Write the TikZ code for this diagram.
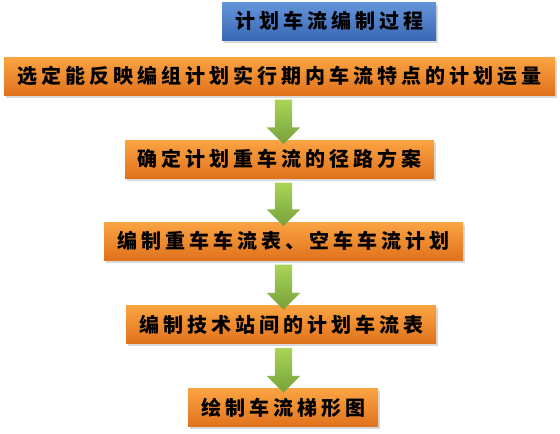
\documentclass[tikz,border=0pt]{standalone}
\usepackage{fontspec}
\newfontfamily\cjk{Noto Sans CJK SC}[LetterSpace=20]
\usetikzlibrary{calc,positioning,shapes.arrows,shadows}

\definecolor{boxtop}{HTML}{FBA443}
\definecolor{boxbot}{HTML}{E0721C}
\definecolor{ttltop}{HTML}{6495DA}
\definecolor{ttlbot}{HTML}{3A68B4}
\definecolor{arrtop}{HTML}{AAD556}
\definecolor{arrbot}{HTML}{77A03C}

\tikzset{
  stepbox/.style={rectangle, minimum height=38pt, inner sep=0pt,
    top color=boxtop, bottom color=boxbot, draw=none,
    drop shadow={shadow xshift=1.5pt, shadow yshift=-2.5pt, opacity=.3},
    font=\cjk\bfseries\fontsize{20}{20}\selectfont},
  titlebox/.style={stepbox, top color=ttltop, bottom color=ttlbot},
  flowarrow/.style={single arrow, shape border rotate=270, draw=none,
    top color=arrtop, bottom color=arrbot, inner sep=8.5pt,
    minimum width=33pt, single arrow head extend=8pt},
}

\begin{document}
\begin{tikzpicture}[x=1pt,y=-1pt]
  \useasboundingbox (0,0) rectangle (560,434);
  \node[titlebox, minimum width=214pt] (title) at (329,21) {计划车流编制过程};
  \node[stepbox, minimum width=551pt] (s1) at (279.5,76) {选定能反映编组计划实行期内车流特点的计划运量};
  \node[stepbox, minimum width=309pt] (s2) at (279.5,159) {确定计划重车流的径路方案};
  \node[stepbox, minimum width=359pt] (s3) at (283.5,241) {编制重车车流表、空车车流计划};
  \node[stepbox, minimum width=310pt] (s4) at (281,324.5) {编制技术站间的计划车流表};
  \node[stepbox, minimum width=190pt] (s5) at (283,407.5) {绘制车流梯形图};
  % block arrows between the steps
  \foreach \a/\b in {s1/s2,s2/s3,s3/s4,s4/s5}
    \path let \p1=(\a.south), \p2=(\b.north) in
      node[flowarrow, minimum height=\y1-\y2] (\a-\b) at (283.5pt,{(\y1+\y2)/2}) {};
\end{tikzpicture}
\end{document}
